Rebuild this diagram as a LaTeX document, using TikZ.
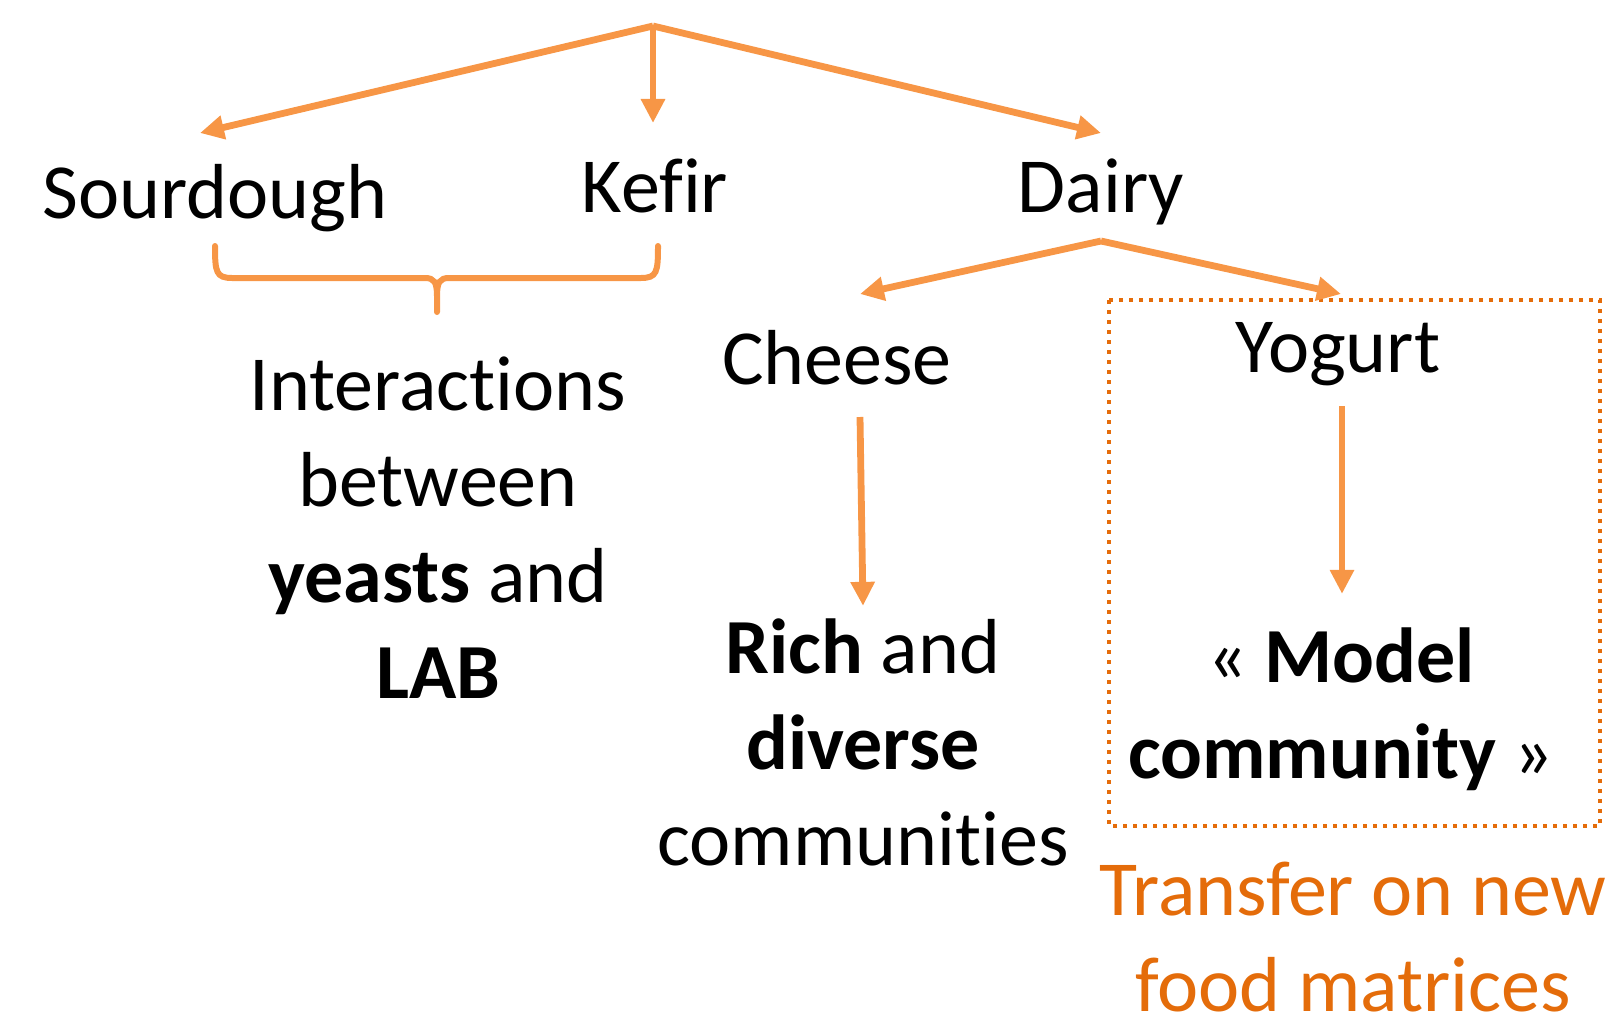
\documentclass[tikz,border=0pt]{standalone}
\usepackage{fontspec}
\setmainfont{Carlito}[Ligatures=NoCommon]
\usetikzlibrary{arrows.meta}
\definecolor{lineorange}{HTML}{F79646}
\definecolor{textorange}{HTML}{E46C0A}
\begin{document}
\begin{tikzpicture}[x=0.5pt, y=-0.5pt,
        every node/.style={font=\fontsize{39}{48}\selectfont, inner sep=0pt},
        word/.style={text height=27.3pt, text depth=7.8pt},
        lines/.style={align=center, anchor=base},
        arr/.style={draw=lineorange, line width=3.4pt, -{Triangle[length=12pt,width=11.5pt]}}]
    \useasboundingbox (0,0) rectangle (1605,1022);
    \coordinate (top) at (653,26);
    \node[word, anchor=base] (sour) at (215,218) {Sourdough};
    \node[word, anchor=base] (kefir) at (655,212) {Kefir};
    \node[word, anchor=base] (dairy) at (1101,212) {Dairy};
    \node[word, anchor=base] (cheese) at (837,384) {Cheese};
    \node[word, anchor=base] (yogurt) at (1338,372) {Yogurt};
    % base = last line
    \node[lines] (inter) at (438,698) {Interactions\\between\\\textbf{yeasts} and\\\textbf{LAB}};
    \node[lines] (rich) at (863,865) {\textbf{Rich} and\\\textbf{diverse}\\communities};
    \node[lines] (model) at (1341,778) {« \textbf{Model}\\\textbf{community} »};
    \node[lines, text=textorange] (transfer) at (1353,1011) {Transfer on new\\food matrices};
    % box round the yogurt branch
    \draw[textorange, line width=2pt, dash pattern=on 2pt off 3pt] (1109,300) rectangle (1600,826);
    % arrows
    \draw[arr] (top) -- ([shift={(-15,-30)}]sour.north);
    \draw[arr] (top) -- ([shift={(-2,-34)}]kefir.north);
    \draw[arr] (top) -- ([shift={(0,-24)}]dairy.north);
    \coordinate (split) at ([yshift=-6.5pt]dairy.south);
    \draw[arr] (split) -- ([shift={(23,-35)}]cheese.north);
    \draw[arr] (split) -- ([shift={(3,-23)}]yogurt.north);
    \draw[arr] ([shift={(23,17)}]cheese.south) -- ([shift={(0,-12)}]rich.north);
    \draw[arr] ([shift={(4,18)}]yogurt.south) -- ([shift={(1,-33)}]model.north);
    % brace
    \draw[lineorange, line width=3pt, line cap=round]
        (215,246) .. controls (215,272) and (216,278) .. (232,278) -- (425,278)
        .. controls (434,278) and (437,282) .. (437,296) -- (437,312)
        (658,246) .. controls (658,272) and (657,278) .. (641,278) -- (449,278)
        .. controls (440,278) and (437,282) .. (437,296);
\end{tikzpicture}
\end{document}
